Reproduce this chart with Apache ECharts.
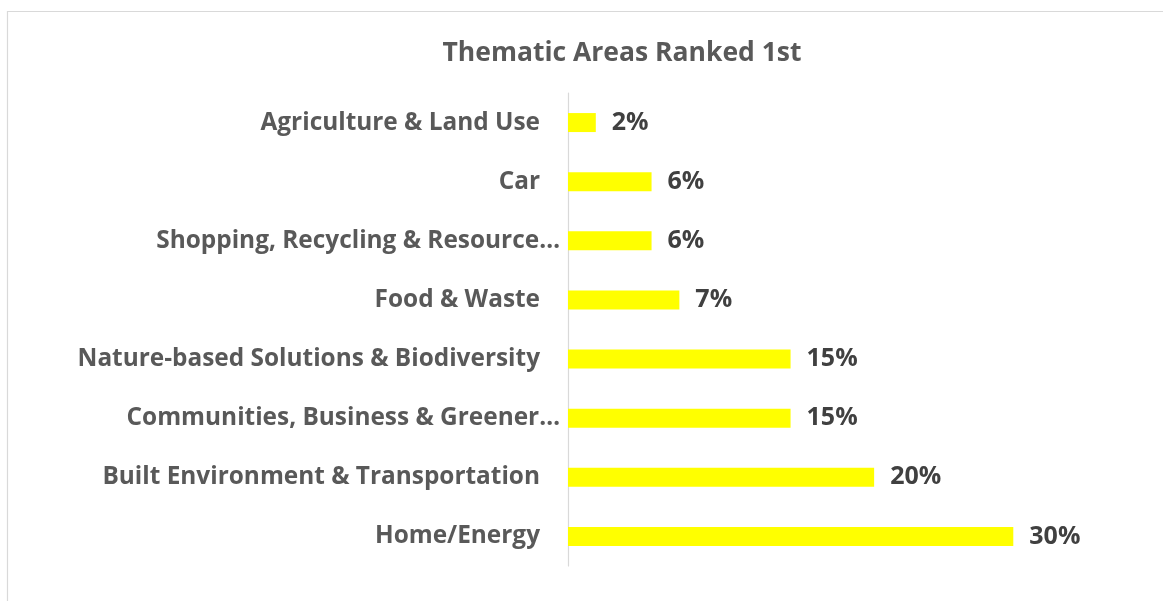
<!DOCTYPE html>
<html>
<head>
<meta charset="utf-8">
<style>
html,body{margin:0;padding:0;background:#fff;}
#chart{width:1163px;height:601px;}
</style>
<script src="https://cdn.jsdelivr.net/npm/echarts@6/dist/echarts.min.js"></script>
</head>
<body>
<div id="chart"></div>
<script>
const titleText = 'Thematic Areas Ranked 1st';
const categories = [
  'Agriculture & Land Use',
  'Car',
  'Shopping, Recycling & Resource…',
  'Food & Waste',
  'Nature-based Solutions & Biodiversity',
  'Communities, Business & Greener…',
  'Built Environment & Transportation',
  'Home/Energy'
];
const values = [1.85, 5.56, 5.56, 7.41, 14.81, 14.81, 20.37, 29.63];

const FONT = '"Open Sans"';
const chart = echarts.init(document.getElementById('chart'));
chart.setOption({
  backgroundColor: '#ffffff',
  animation: false,
  graphic: [{
    type: 'rect',
    shape: {x: 7.5, y: 11.5, width: 1300, height: 700},
    style: {fill: 'none', stroke: '#d9d9d9', lineWidth: 1.2},
    silent: true
  }],
  title: {
    text: titleText,
    left: 617,
    textAlign: 'center',
    top: 35,
    textStyle: {fontFamily: FONT, fontWeight: 'bold', fontSize: 26.5, color: '#595959'}
  },
  grid: {left: 568, top: 93, right: 69, bottom: 35, containLabel: false},
  xAxis: {
    type: 'value', min: 0, max: 35,
    show: false,
    splitLine: {show: false}
  },
  yAxis: {
    type: 'category',
    data: categories,
    inverse: true,
    axisLine: {show: true, lineStyle: {color: '#d9d9d9', width: 1.2}},
    axisTick: {show: false},
    axisLabel: {
      margin: 8,
      formatter: function (v) {
        return v.endsWith('…') ? '{t|' + v + '}' : '{n|' + v + '}';
      },
      rich: {
        n: {fontFamily: FONT, fontWeight: 'bold', fontSize: 24.4, color: '#595959', padding: [0, 20, 0, 0]},
        t: {fontFamily: FONT, fontWeight: 'bold', fontSize: 24.4, color: '#595959'}
      }
    }
  },
  series: [{
    type: 'bar',
    data: values,
    barWidth: 19,
    itemStyle: {color: '#ffff00'},
    label: {
      show: true,
      position: 'right',
      distance: 16,
      formatter: function (p) { return Math.round(p.value) + '%'; },
      fontFamily: FONT, fontWeight: 'bold', fontSize: 25, color: '#404040'
    }
  }]
});
</script>
</body>
</html>
